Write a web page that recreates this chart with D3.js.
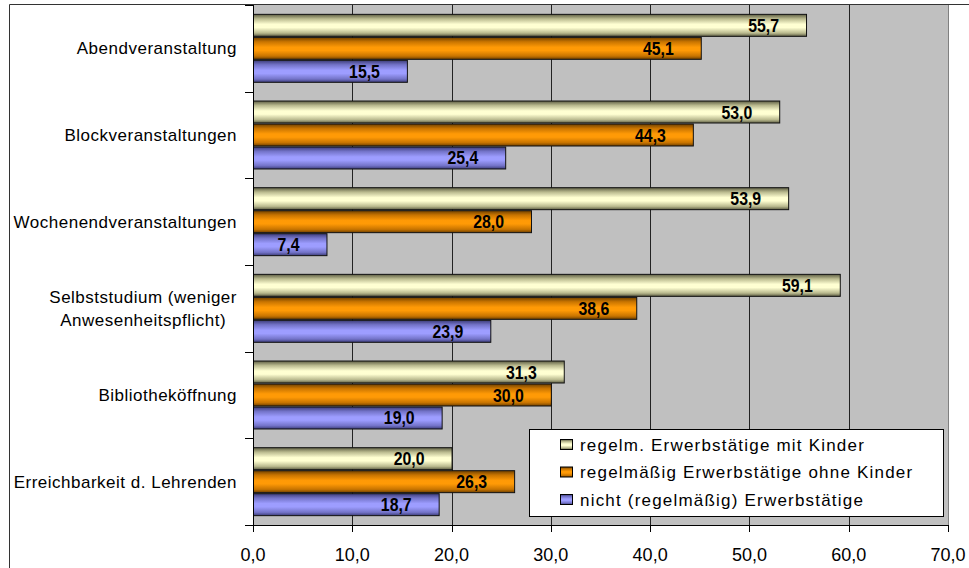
<!DOCTYPE html>
<html><head><meta charset="utf-8">
<script src="https://cdn.jsdelivr.net/npm/d3@7/dist/d3.min.js"></script>
<style>
body{margin:0;background:#fff;}
svg{display:block;}
</style></head>
<body>
<svg id="chart" width="969" height="568"></svg>
<script>
const categories = [
  ["Abendveranstaltung"],
  ["Blockveranstaltungen"],
  ["Wochenendveranstaltungen"],
  ["Selbststudium (weniger", "Anwesenheitspflicht)"],
  ["Bibliotheköffnung"],
  ["Erreichbarkeit d. Lehrenden"]
];
const seriesNames = [
  "regelm. Erwerbstätige mit Kinder",
  "regelmäßig Erwerbstätige ohne Kinder",
  "nicht (regelmäßig) Erwerbstätige"
];
const withKids    = [55.7, 53.0, 53.9, 59.1, 31.3, 20.0];
const withoutKids = [45.1, 44.3, 28.0, 38.6, 30.0, 26.3];
const notEmployed = [15.5, 25.4, 7.4, 23.9, 19.0, 18.7];
const seriesValues = [withKids, withoutKids, notEmployed];
const xTicks = [0, 10, 20, 30, 40, 50, 60, 70];

(function() {
const colors = [
  {dark:"#5e5e44", mid:"#b9b98e", light:"#ffffd2"},
  {dark:"#6e4000", mid:"#c87400", light:"#ff9a06"},
  {dark:"#3c3c78", mid:"#7373c8", light:"#9d9dff"}
];
const FONT = "'Liberation Sans', Arial, sans-serif";

const svg = d3.select("#chart");
const pL = 253, pR = 948, pT = 5, pB = 525;

const defs = svg.append("defs");
colors.forEach((c, i) => {
  const g = defs.append("linearGradient").attr("id", "g" + i)
    .attr("x1", 0).attr("x2", 0).attr("y1", 0).attr("y2", 1);
  [[0, c.dark], [0.2, c.mid], [0.45, c.light], [0.6, c.light], [0.85, c.mid], [1, c.dark]]
    .forEach(([o, col]) => g.append("stop").attr("offset", o).attr("stop-color", col));
});

const x = d3.scaleLinear().domain([0, 70]).range([pL, pR]);
const y = d3.scaleBand().domain(d3.range(categories.length)).range([pT, pB]).padding(0);
const ys = d3.scaleBand().domain(d3.range(3)).range([0, y.bandwidth()]).paddingInner(0).paddingOuter(0.385);

// outer frame
svg.append("path").attr("d", `M9.5,568 V4.5 H969`).attr("fill", "none").attr("stroke", "#333").attr("stroke-width", 1);

// plot background
svg.append("rect").attr("x", pL).attr("y", pT).attr("width", pR - pL).attr("height", pB - pT)
  .attr("fill", "#c0c0c0");

// gridlines
svg.append("g").selectAll("line").data(xTicks.slice(1)).join("line")
  .attr("x1", d => Math.round(x(d)) + 0.5).attr("x2", d => Math.round(x(d)) + 0.5)
  .attr("y1", pT).attr("y2", pB)
  .attr("stroke", d => d === 70 ? "#808080" : "#222").attr("stroke-width", 1);
svg.append("line").attr("x1", pL).attr("x2", 969).attr("y1", 4.5).attr("y2", 4.5).attr("stroke", "#333");

// bars
const groups = svg.append("g").selectAll("g").data(categories).join("g")
  .attr("transform", (d, i) => `translate(0,${y(i)})`);

groups.each(function(d, ci) {
  const g = d3.select(this);
  seriesValues.forEach((vals, si) => {
    const v = vals[ci];
    const by = ys(si);
    g.append("rect")
      .attr("x", pL + 0.5).attr("y", by + 0.5)
      .attr("width", x(v) - pL).attr("height", ys.bandwidth() - 1)
      .attr("fill", `url(#g${si})`).attr("stroke", "#111").attr("stroke-width", 1);
    g.append("text")
      .attr("transform", `translate(${x(v) - 27},${by + ys.bandwidth() / 2 + 6.5}) scale(0.88,1)`)
      .attr("text-anchor", "end")
      .attr("font-family", FONT)
      .attr("font-weight", "bold").attr("font-size", 18).attr("fill", "#000")
      .text(d3.format(".1f")(v).replace(".", ","));
  });
});

// y axis
svg.append("line").attr("x1", pL + 0.5).attr("x2", pL + 0.5).attr("y1", pT).attr("y2", pB + 6).attr("stroke", "#000");
svg.append("g").selectAll("line").data(d3.range(categories.length + 1)).join("line")
  .attr("x1", pL - 8).attr("x2", pL)
  .attr("y1", i => Math.round(pT + i * y.step()) + 0.5).attr("y2", i => Math.round(pT + i * y.step()) + 0.5)
  .attr("stroke", "#000");

// x axis
svg.append("line").attr("x1", pL - 8).attr("x2", pR).attr("y1", pB + 0.5).attr("y2", pB + 0.5).attr("stroke", "#000");
svg.append("g").selectAll("line").data(xTicks).join("line")
  .attr("x1", d => Math.round(x(d)) + 0.5).attr("x2", d => Math.round(x(d)) + 0.5)
  .attr("y1", pB).attr("y2", pB + 7).attr("stroke", "#000");
svg.append("g").selectAll("text").data(xTicks).join("text")
  .attr("x", d => x(d)).attr("y", 561)
  .attr("text-anchor", "middle")
  .attr("font-family", FONT).attr("font-size", 18)
  .text(d => d3.format(".1f")(d).replace(".", ","));

// category labels
const labelRight = 237;
categories.forEach((lines, i) => {
  const cy = y(i) + y.bandwidth() / 2;
  const t = svg.append("text")
    .attr("font-family", FONT).attr("font-size", 17)
    .attr("letter-spacing", 0.5).attr("fill", "#000");
  const n = lines.length;
  const spans = lines.map((s, k) => t.append("tspan").text(s)
    .attr("y", cy + 6 + (k - (n - 1) / 2) * 23));
  const widths = spans.map(s => s.node().getComputedTextLength());
  const maxW = d3.max(widths);
  spans.forEach((s, k) => s.attr("x", labelRight - maxW / 2).attr("text-anchor", "middle"));
});

// legend
const lg = svg.append("g");
lg.append("rect").attr("x", 529.5).attr("y", 429.5).attr("width", 414).attr("height", 87)
  .attr("fill", "#fff").attr("stroke", "#000");
seriesNames.forEach((name, i) => {
  const cy = 444.5 + i * 27.5;
  lg.append("rect").attr("x", 560.5).attr("y", cy - 5).attr("width", 12).attr("height", 10)
    .attr("fill", `url(#g${i})`).attr("stroke", "#000");
  lg.append("text").attr("x", 580).attr("y", cy + 6)
    .attr("font-family", FONT).attr("font-size", 17)
    .attr("letter-spacing", 1.2)
    .text(name);
});
})();
</script>
</body></html>
